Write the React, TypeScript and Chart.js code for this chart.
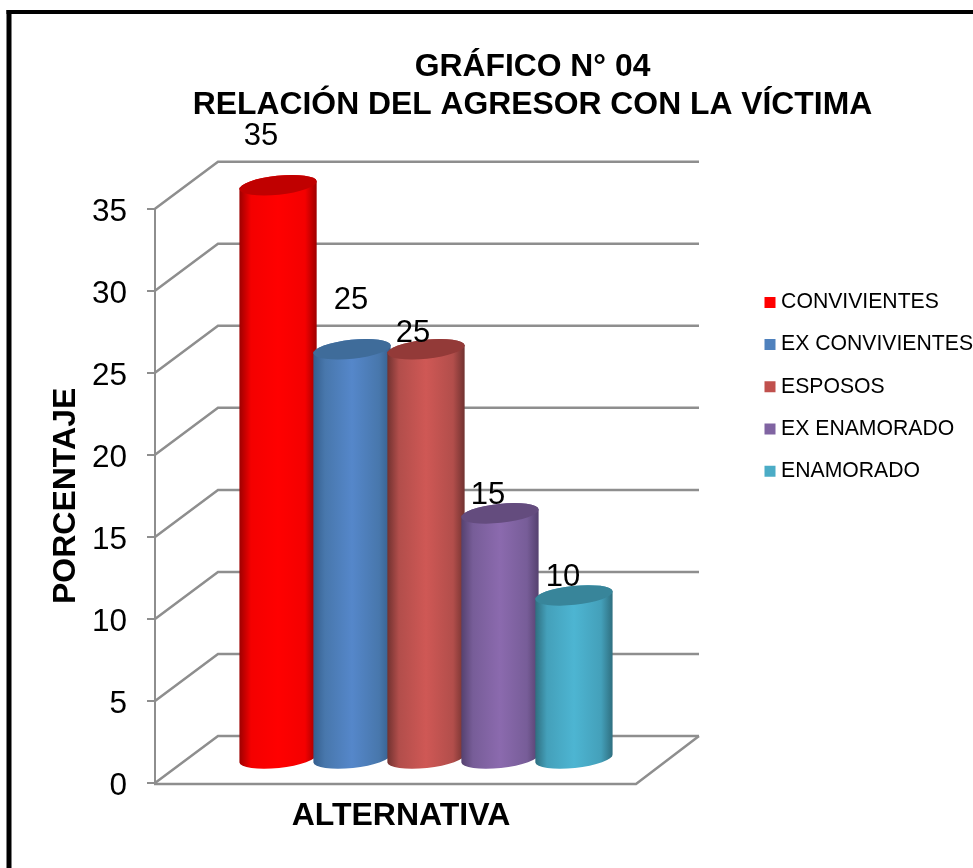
import React, { useEffect, useRef } from "react";
import { Chart, registerables } from "chart.js";

Chart.register(...registerables);

const FONT = "'Liberation Sans', Arial, sans-serif";

const titleLines = ["GRÁFICO N° 04", "RELACIÓN DEL AGRESOR CON LA VÍCTIMA"];
const yAxisTitle = "PORCENTAJE";
const xAxisTitle = "ALTERNATIVA";
const categories = [""];
const seriesNames = ["CONVIVIENTES", "EX CONVIVIENTES", "ESPOSOS", "EX ENAMORADO", "ENAMORADO"];
const seriesValues = [35, 25, 25, 15, 10];
const yMax = 35;
const yStep = 5;

const legendColors = ["#FF0000", "#4F81BD", "#C0504D", "#8064A2", "#4BACC6"];
const edgeColors = ["#9E0000", "#355F8E", "#713230", "#55416F", "#2F6F80"];
const midColors = ["#F40000", "#4877AC", "#B24E4B", "#775D98", "#44A0BA"];
const lightColors = ["#FF0000", "#5587CA", "#CF5855", "#8B6AAE", "#4DB5D2"];
const capColors = ["#C00000", "#3F6C9A", "#933A38", "#644C7E", "#38859A"];
const labelNudges = [[-17, -48.5], [-1, -48.5], [-13, -16], [-12, -18], [-11, -18]];

const DEPTH_X = 63;
const DEPTH_Y = -47;
const BAR_DX = 30.5;
const GRID = "#8E8E8E";
const TILT = (-6 * Math.PI) / 180;

const chart3d = {
  id: "chart3d",
  afterLayout(chart: any) {
    const t = chart.titleBlock;
    t.left = 92;
    t.right = 973;
    const l = chart.legend;
    l.left = 748.5;
    l.right = 973;
    l.top = 270.8;
    l.bottom = 868;
    const x = chart.scales.x;
    x.left += 11;
  },
  beforeDatasetsDraw(chart: any) {
    const { ctx } = chart;
    const y = chart.scales.y;
    const left = y.right;
    const right = chart.chartArea.right;
    ctx.save();
    ctx.strokeStyle = GRID;
    ctx.lineWidth = 2.5;
    y.ticks.forEach((_: any, i: number) => {
      const py = y.getPixelForTick(i);
      ctx.beginPath();
      ctx.moveTo(left, py);
      ctx.lineTo(left + DEPTH_X, py + DEPTH_Y);
      ctx.lineTo(right + DEPTH_X, py + DEPTH_Y);
      ctx.stroke();
    });
    const base = y.getPixelForValue(0);
    ctx.beginPath();
    ctx.moveTo(right + DEPTH_X, base + DEPTH_Y);
    ctx.lineTo(right, base + 1);
    ctx.lineTo(left - 1, base + 1);
    ctx.stroke();
    ctx.restore();
  },
  beforeDatasetDraw() {
    return false;
  },
  afterDatasetsDraw(chart: any) {
    const { ctx } = chart;
    ctx.save();
    seriesValues.forEach((value, i) => {
      const el = chart.getDatasetMeta(i).data[0];
      const cx = el.x + BAR_DX;
      const topY = el.y + DEPTH_Y / 2;
      const baseY = el.base + DEPTH_Y / 2;
      const rx = el.width / 2;
      const ry = 9.5;
      const dx = rx * Math.cos(TILT);
      const dy = rx * Math.sin(TILT);
      const g = ctx.createLinearGradient(cx - dx, 0, cx + dx, 0);
      g.addColorStop(0, edgeColors[i]);
      g.addColorStop(0.15, midColors[i]);
      g.addColorStop(0.5, lightColors[i]);
      g.addColorStop(0.85, midColors[i]);
      g.addColorStop(1, edgeColors[i]);
      ctx.fillStyle = g;
      ctx.beginPath();
      ctx.moveTo(cx - dx, topY - dy);
      ctx.lineTo(cx - dx, baseY - dy);
      ctx.ellipse(cx, baseY, rx, ry, TILT, Math.PI, 0, true);
      ctx.lineTo(cx + dx, topY + dy);
      ctx.ellipse(cx, topY, rx, ry, TILT, 0, Math.PI, true);
      ctx.closePath();
      ctx.fill();
      ctx.fillStyle = capColors[i];
      ctx.beginPath();
      ctx.ellipse(cx, topY, rx, ry, TILT, 0, Math.PI * 2);
      ctx.fill();
    });
    ctx.fillStyle = "#000";
    ctx.font = `31px ${FONT}`;
    ctx.textAlign = "center";
    ctx.textBaseline = "middle";
    seriesValues.forEach((value, i) => {
      const el = chart.getDatasetMeta(i).data[0];
      const [nx, ny] = labelNudges[i];
      ctx.fillText(String(value), el.x + BAR_DX + nx, el.y + DEPTH_Y / 2 + ny);
    });
    ctx.restore();
  },
  afterDraw(chart: any) {
    const { ctx } = chart;
    ctx.save();
    ctx.fillStyle = "#000";
    ctx.fillRect(6.5, 10, 5, 858);
    ctx.fillRect(6.5, 10, 966.5, 4);
    ctx.restore();
  },
};

export default function App() {
  const ref = useRef<HTMLCanvasElement>(null);
  useEffect(() => {
    const chart = new Chart(ref.current as HTMLCanvasElement, {
      type: "bar",
      data: {
        labels: categories,
        datasets: seriesNames.map((name, i) => ({
          label: name,
          data: [seriesValues[i]],
          backgroundColor: legendColors[i],
          borderWidth: 0,
          categoryPercentage: 0.769,
          barPercentage: 1.05,
        })),
      },
      options: {
        animation: false,
        responsive: false,
        layout: { padding: { left: 0, top: 0, right: 337, bottom: 0 } },
        scales: {
          x: {
            grid: { display: false, drawTicks: false },
            border: { display: false },
            ticks: { display: false },
            title: {
              display: true,
              text: xAxisTitle,
              color: "#000",
              font: { family: FONT, size: 32, weight: "bold" },
              padding: { top: 0, bottom: 32.3 },
            },
            afterFit(scale: any) {
              scale.height = 85;
            },
          },
          y: {
            min: 0,
            max: yMax,
            grid: { drawOnChartArea: false, color: GRID, tickLength: 8, lineWidth: 2, tickColor: GRID },
            border: { color: GRID, width: 2 },
            ticks: {
              stepSize: yStep,
              color: "#000",
              padding: 20,
              labelOffset: 3.5,
              font: { family: FONT, size: 31.5 },
            },
            title: {
              display: true,
              text: yAxisTitle,
              color: "#000",
              font: { family: FONT, size: 32, weight: "bold" },
              padding: { top: 46.8, bottom: 0 },
            },
            afterFit(scale: any) {
              scale.width = 155;
            },
          },
        },
        plugins: {
          title: {
            display: true,
            text: titleLines,
            color: "#000",
            font: { family: FONT, size: 31.85, weight: "bold", lineHeight: 1.2 },
            padding: { top: 48, bottom: 84.3 },
          },
          legend: {
            position: "chartArea" as any,
            align: "start",
            labels: {
              color: "#000",
              font: { family: FONT, size: 21.2 },
              usePointStyle: true,
              pointStyle: "rect",
              boxWidth: 1,
              boxHeight: 11,
              padding: 21,
            },
          },
          tooltip: { enabled: false },
        },
      },
      plugins: [chart3d],
    } as any);
    return () => chart.destroy();
  }, []);
  return (
    <div style={{ position: "fixed", left: 0, top: 0, width: 973, height: 868, background: "#fff" }}>
      <canvas ref={ref} width={973} height={868} style={{ display: "block" }} />
    </div>
  );
}
